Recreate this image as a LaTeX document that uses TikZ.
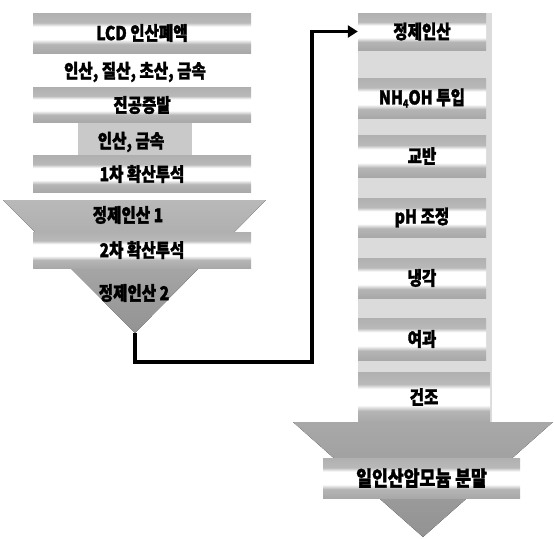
\documentclass[tikz,border=0pt]{standalone}
\usepackage{fontspec}
\setmainfont{Noto Sans CJK KR}[FakeStretch=0.82, BoldFeatures={FakeBold=1.6}]
\usetikzlibrary{arrows.meta}
\pgfdeclareverticalshading{band}{100bp}{color(0bp)=(gray!68); color(25bp)=(gray!68); color(36bp)=(gray!58); color(42bp)=(white); color(58bp)=(white); color(63bp)=(gray!55); color(75bp)=(gray!62); color(100bp)=(gray!62)}
\tikzset{
  lbl/.style={font=\bfseries\fontsize{19}{19}\selectfont, inner sep=0pt},
  lbox/.style={lbl, rectangle, shading=band, minimum width=218pt},
  rbox/.style={lbl, rectangle, shading=band, minimum width=128pt},
  conn/.style={line width=3.5pt, -{Triangle[length=10pt,width=12pt]}},
}
\begin{document}
\begin{tikzpicture}[x=1pt,y=-1pt]
\useasboundingbox (0,0) rectangle (554,538);
% left column
\fill[top color=gray!55, bottom color=gray!85] (3,200) -- (266,200) -- (135,333) -- cycle;
\coordinate (apexL) at (135,333);
\fill[gray!42] (78,122) rectangle (192,157);
\node[lbox, minimum height=40pt] (b1) at (142,33) {LCD 인산폐액};
\node[lbl] (t1) at (135,72) {인산, 질산, 초산, 금속};
\node[lbox, minimum height=35pt] (b2) at (142,105) {진공증발};
\node[lbl] (t2) at (131,142) {인산, 금속};
\node[lbox, minimum height=37pt] (b3) at (142,174) {1차 확산투석};
\node[lbl] (t3) at (128,215) {정제인산 1};
\node[lbox, minimum height=36pt] (b4) at (142,250) {2차 확산투석};
\node[lbl] (t4) at (134,293) {정제인산 2};
% right column
\fill[gray!28] (358,13) rectangle (492,422);
\fill[top color=gray!68, bottom color=gray!85] (293,422) -- (553,422) -- (423,537) -- cycle;
\node[rbox, minimum height=37pt] (r1) at (422,31.5) {정제인산};
\node[rbox, minimum height=40pt] (r2) at (422,98) {NH\raisebox{-0.3ex}{\fontsize{11}{11}\selectfont 4}OH 투입};
\node[rbox, minimum height=42pt] (r3) at (422,156) {교반};
\node[rbox, minimum height=39pt] (r4) at (422,217.5) {pH 조정};
\node[rbox, minimum height=40pt] (r5) at (422,278) {냉각};
\node[rbox, minimum height=42pt] (r6) at (422,339) {여과};
\node[rbox, minimum height=50pt, minimum width=132pt] (r7) at (424,397) {건조};
\node[lbl, rectangle, shading=band, minimum width=197pt, minimum height=40pt, font=\bfseries\fontsize{21}{21}\selectfont] (r8) at (421.5,478) {일인산암모늄 분말};
% connector
\coordinate (c1) at (312,362);
\draw[conn] (apexL) |- (c1) |- (r1.west);
\end{tikzpicture}
\end{document}
